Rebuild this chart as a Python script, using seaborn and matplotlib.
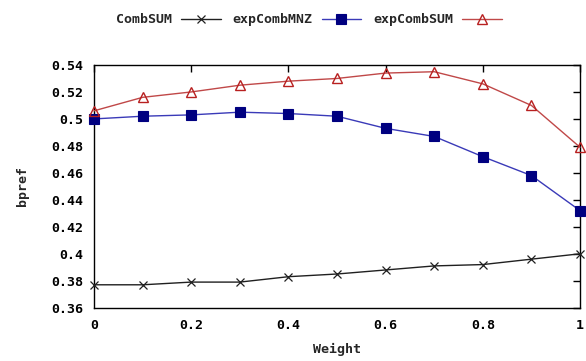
import matplotlib
matplotlib.use("Agg")
import matplotlib.pyplot as plt
import seaborn as sns
import pandas as pd

weights = [0.0, 0.1, 0.2, 0.3, 0.4, 0.5, 0.6, 0.7, 0.8, 0.9, 1.0]
comb_sum = [0.377, 0.377, 0.379, 0.379, 0.383, 0.385, 0.388, 0.391, 0.392, 0.396, 0.400]
exp_comb_mnz = [0.500, 0.502, 0.503, 0.505, 0.504, 0.502, 0.493, 0.487, 0.472, 0.458, 0.432]
exp_comb_sum = [0.506, 0.516, 0.520, 0.525, 0.528, 0.530, 0.534, 0.535, 0.526, 0.510, 0.479]

series_names = ["CombSUM", "expCombMNZ", "expCombSUM"]
y_ticks = [0.36, 0.38, 0.40, 0.42, 0.44, 0.46, 0.48, 0.50, 0.52, 0.54]
y_tick_labels = ["0.36", "0.38", "0.4", "0.42", "0.44", "0.46", "0.48", "0.5", "0.52", "0.54"]
x_ticks = [0.0, 0.2, 0.4, 0.6, 0.8, 1.0]
x_tick_labels = ["0", "0.2", "0.4", "0.6", "0.8", "1"]

df = pd.DataFrame({
    "Weight": weights * 3,
    "bpref": comb_sum + exp_comb_mnz + exp_comb_sum,
    "series": [series_names[0]] * len(weights)
    + [series_names[1]] * len(weights)
    + [series_names[2]] * len(weights),
})

sns.set_style("white")
plt.rcParams["font.family"] = ["DejaVu Sans Mono", "DejaVu Sans"]
plt.rcParams["font.weight"] = "bold"

fig = plt.figure(figsize=(5.86, 3.61), dpi=100)
ax = fig.add_axes([0.1604, 0.1476, 0.8294, 0.6724])

styles = {
    "CombSUM": dict(color="#202020", marker="x", ms=6, mec="#202020", mfc="none", mew=0.9),
    "expCombMNZ": dict(color="#3a3ab8", marker="s", ms=6.5, mec="#000080", mfc="#000080", mew=0.8),
    "expCombSUM": dict(color="#c04848", marker="^", ms=7, mec="#b82020", mfc="none", mew=1.0),
}

for name in series_names:
    sub = df[df["series"] == name]
    st = styles[name]
    sns.lineplot(data=sub, x="Weight", y="bpref", ax=ax, label=name,
                 color=st["color"], lw=1.0, marker=st["marker"], markersize=st["ms"],
                 markeredgecolor=st["mec"], markerfacecolor=st["mfc"],
                 markeredgewidth=st["mew"], clip_on=False, zorder=3)

ax.set_xlim(0, 1)
ax.set_ylim(0.36, 0.54)
ax.set_xticks(x_ticks)
ax.set_xticklabels(x_tick_labels)
ax.set_yticks(y_ticks)
ax.set_yticklabels(y_tick_labels)
ax.tick_params(direction="in", length=5, width=1, top=True, right=True,
               labelsize=9.5, colors="black", pad=8)
for lbl in ax.get_xticklabels() + ax.get_yticklabels():
    lbl.set_fontweight("bold")
for sp in ax.spines.values():
    sp.set_color("black")
    sp.set_linewidth(1.0)

ax.set_xlabel("Weight", fontsize=9.5, fontweight="bold", labelpad=8)
ax.set_ylabel("bpref", fontsize=9.5, fontweight="bold", labelpad=16)

ax.get_legend().remove()
handles, labels = ax.get_legend_handles_labels()
fig.legend(handles, labels, loc="center", bbox_to_anchor=(0.527, 0.945), ncol=3,
           frameon=False, markerfirst=False, handlelength=3.0,
           columnspacing=0.9, handletextpad=0.7, prop={"weight": "bold", "size": 9.5})

fig.savefig("out.png", dpi=100)
